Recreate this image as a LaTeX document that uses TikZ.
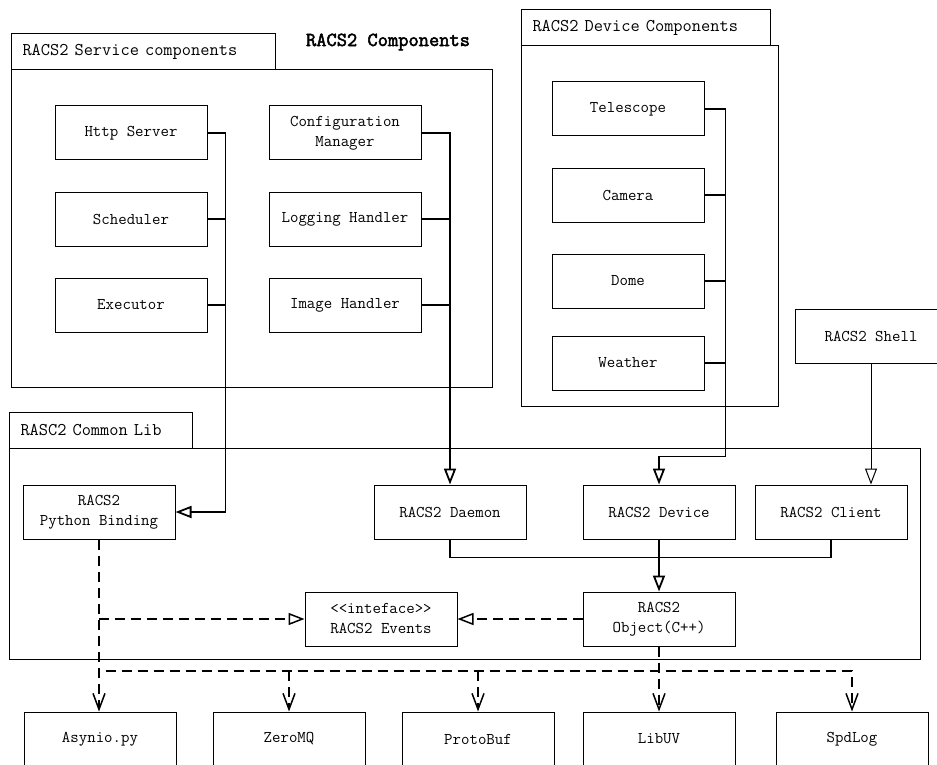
\documentclass[tikz,border=0pt]{standalone}
\usepackage{fontspec}
\newfontfamily\titlefont{Latin Modern Mono}[AutoFakeBold=2.5]
\usetikzlibrary{positioning,arrows.meta}

\begin{document}
\begin{tikzpicture}[x=1pt,y=-1pt,node distance=31pt,line width=1pt,
 comp/.style={rectangle,draw,minimum width=152pt,minimum height=54pt,
  align=center,font=\ttfamily\fontsize{16.4}{20}\selectfont},
 tab/.style={rectangle,draw,anchor=north west,minimum height=36pt,
  inner xsep=11pt,align=left,font=\ttfamily\fontsize{17.9}{20}\selectfont},
 frame/.style={rectangle,draw,anchor=north west,inner sep=0pt},
 inherit/.style={line width=1.8pt,-{Triangle[open,length=16pt,width=12pt]}},
 realize/.style={line width=1.5pt,dash pattern=on 10pt off 6pt,
  -{Triangle[open,length=16pt,width=12pt]}},
 depend/.style={line width=1.5pt,dash pattern=on 10pt off 6pt,
  -{Straight Barb[length=16pt,width=12pt]}}]

  \clip (0,0) rectangle (937,765);

  % service components
  \node[frame,minimum width=481pt,minimum height=318pt] (srv) at (11,69) {};
  \node[tab,text width=242pt] (srvtab) at (11,33) {RACS2 Service components};
  \node[font=\titlefont\bfseries\fontsize{19.9}{22}\selectfont] (title) at (388,42) {RACS2 Components};

  \node[comp] (http) at (131,133) {Http Server};
  \node[comp] (sched) [below=of http] {Scheduler};
  \node[comp] (exec) [below=of sched] {Executor};
  \node[comp] (conf) at (345,133) {Configuration\\Manager};
  \node[comp] (log) [below=of conf] {Logging Handler};
  \node[comp] (img) [below=of log] {Image Handler};

  % device components
  \node[frame,minimum width=257pt,minimum height=361pt] (devs) at (521,45) {};
  \node[tab,text width=227pt] (devtab) at (521,9) {RACS2 Device Components};
  \node[comp] (tele) at (628,109) {Telescope};
  \node[comp] (cam) [below=of tele] {Camera};
  \node[comp] (dome) [below=of cam] {Dome};
  \node[comp] (wea) [below=27pt of dome] {Weather};

  \node[comp] (shell) at (871,336) {RACS2 Shell};

  % common lib
  \node[frame,minimum width=911pt,minimum height=211pt] (common) at (9,448) {};
  \node[tab,text width=161pt] (libtab) at (9,412) {RASC2 Common Lib};
  \node[comp] (pyb) at (99,512) {RACS2\\Python Binding};
  \node[comp] (daemon) at (450,512) {RACS2 Daemon};
  \node[comp] (dev) at (659,512) {RACS2 Device};
  \node[comp] (client) [right=19pt of dev] {RACS2 Client};
  \node[comp] (obj) [below=52pt of dev] {RACS2\\Object(C++)};
  \node[comp] (ev) [left=125pt of obj] {<<inteface>>\\RACS2 Events};

  % third party
  \node[comp] (asy) at (100,739) {Asynio.py};
  \node[comp] (zmq) [right=36pt of asy] {ZeroMQ};
  \node[comp] (pb) [right=36pt of zmq] {ProtoBuf};
  \node[comp] (uv) at (659,739) {LibUV};
  \node[comp] (spd) at (852,739) {SpdLog};

  % buses
  \draw[inherit] (http.east) -| ([xshift=50pt]pyb.east) -- (pyb.east);
  \foreach \n in {sched,exec} \draw[line width=1.8pt] (\n.east) -- ++(18,0);
  \draw[inherit] (conf.east) -| (daemon.north);
  \foreach \n in {log,img} \draw[line width=1.8pt] (\n.east) -- ++(29,0);
  \draw[inherit] (tele.east) -- ++(21,0) |- ([yshift=28pt]dev.north) -- (dev.north);
  \foreach \n in {cam,dome,wea} \draw[line width=1.8pt] (\n.east) -- ++(21,0);
  \draw[-{Triangle[open,length=16pt,width=12pt]}] (shell.south) -- (shell.south |- client.north);

  \draw[line width=1.4pt] (daemon.south) -- ++(0,18) -| (client.south);
  \draw[inherit] (dev.south) -- (obj.north);
  \draw[realize] (obj.west) -- (ev.east);
  \draw[depend] (pyb.south) -- (pyb.south |- asy.north);
  \draw[realize] (pyb.south |- ev.west) -- (ev.west);
  \draw[depend] (obj.south) -- (uv.north);
  \coordinate (hub) at (106,671);
  \draw[depend] (hub) -| (spd.north);
  \foreach \n in {zmq,pb} \draw[depend] (\n.north |- hub) -- (\n.north);
\end{tikzpicture}
\end{document}
